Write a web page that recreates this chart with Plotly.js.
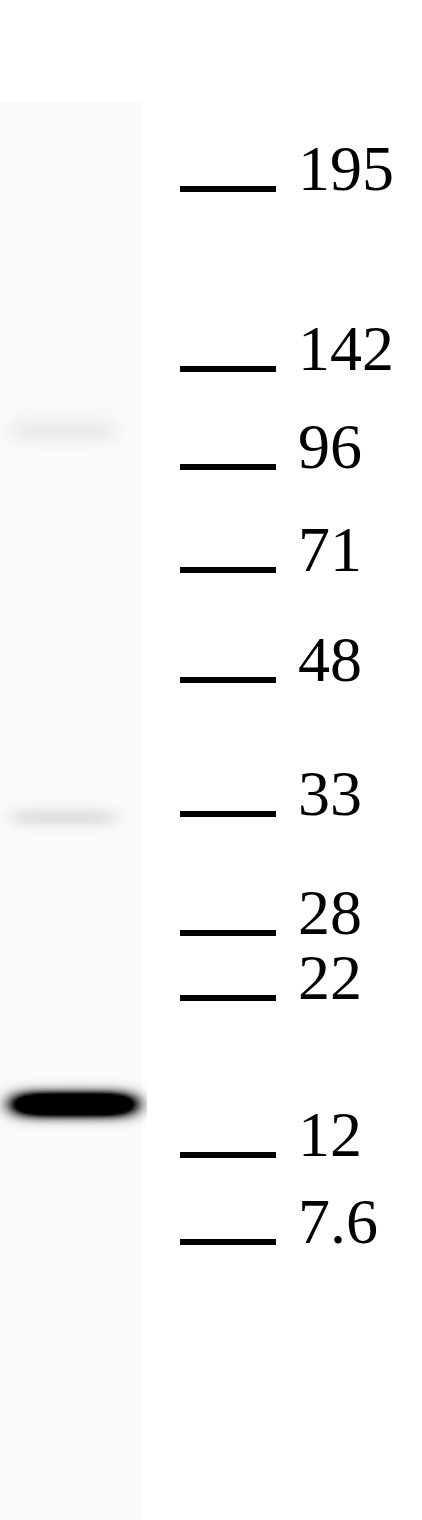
<!DOCTYPE html>
<html>
<head>
<meta charset="utf-8">
<script src="https://cdn.plot.ly/plotly-3.0.1.min.js"></script>
<style>html,body{margin:0;padding:0;background:#fff;}#chart{width:422px;height:1520px;}</style>
</head>
<body>
<div id="chart"></div>
<script>
// Molecular weight ladder (kDa) and migration distance (px from top of blot)
var markerLabels = ['195', '142', '96', '71', '48', '33', '28', '22', '12', '7.6'];
var markerMigration = [189, 369, 467, 570, 680, 814, 933, 998, 1155, 1242];

// Sample lane bands: migration distance and relative intensity
var bandMigration = [430, 817, 1104];
var bandIntensity = [0.06, 0.1, 2.4];
var bandHalfHeight = [14, 10, 11];

// Lane background intensity
var laneBackground = 0.018;

var W = 422, H = 1520;
var laneLeft = 0, laneRight = 146, laneCenter = 73.5, laneHalfWidth = 60;

var xs = [], ys = [], z = [];
for (var x = laneLeft; x <= laneRight; x += 2) xs.push(x);
for (var y = 0; y <= H; y += 2) ys.push(y);
for (var j = 0; j < ys.length; j++) {
  var row = [];
  var yy = ys[j];
  for (var i = 0; i < xs.length; i++) {
    var xx = xs[i];
    var v = (yy > 100 && xx < 142) ? laneBackground : 0;
    for (var b = 0; b < bandMigration.length; b++) {
      var main = b === bandMigration.length - 1;
      var dx = (xx - (main ? laneCenter : 63)) / (laneHalfWidth * (main ? 1 : 0.9));
      var dy = (yy - bandMigration[b]) / bandHalfHeight[b];
      v += bandIntensity[b] * Math.exp(-(Math.pow(Math.abs(dx), main ? 5 : 6) + Math.pow(Math.abs(dy), 2)));
    }
    row.push(Math.min(1, v));
  }
  z.push(row);
}

var traces = [{
  type: 'heatmap', x: xs, y: ys, z: z, zmin: 0, zmax: 1, zsmooth: 'best',
  colorscale: [[0, '#ffffff'], [1, '#000000']], showscale: false, hoverinfo: 'skip'
}];

var shapes = markerMigration.map(function (m) {
  return {type: 'line', xref: 'x', yref: 'y', x0: 180, x1: 276, y0: m, y1: m,
    line: {color: '#000', width: 6}};
});

var annotations = markerMigration.map(function (m, k) {
  return {xref: 'x', yref: 'y', x: 296, y: m, yshift: 21, text: markerLabels[k],
    showarrow: false, xanchor: 'left', yanchor: 'middle', height: 54, valign: 'middle',
    font: {family: 'Liberation Serif, Times New Roman, serif', size: 64, color: '#000'}};
});

var layout = {
  width: W, height: H,
  margin: {l: 0, r: 0, t: 0, b: 0},
  paper_bgcolor: '#ffffff', plot_bgcolor: '#ffffff',
  xaxis: {range: [0, W], visible: false, fixedrange: true},
  yaxis: {range: [H, 0], visible: false, fixedrange: true},
  shapes: shapes, annotations: annotations, showlegend: false
};

Plotly.newPlot('chart', traces, layout, {staticPlot: true, displayModeBar: false});
</script>
</body>
</html>
